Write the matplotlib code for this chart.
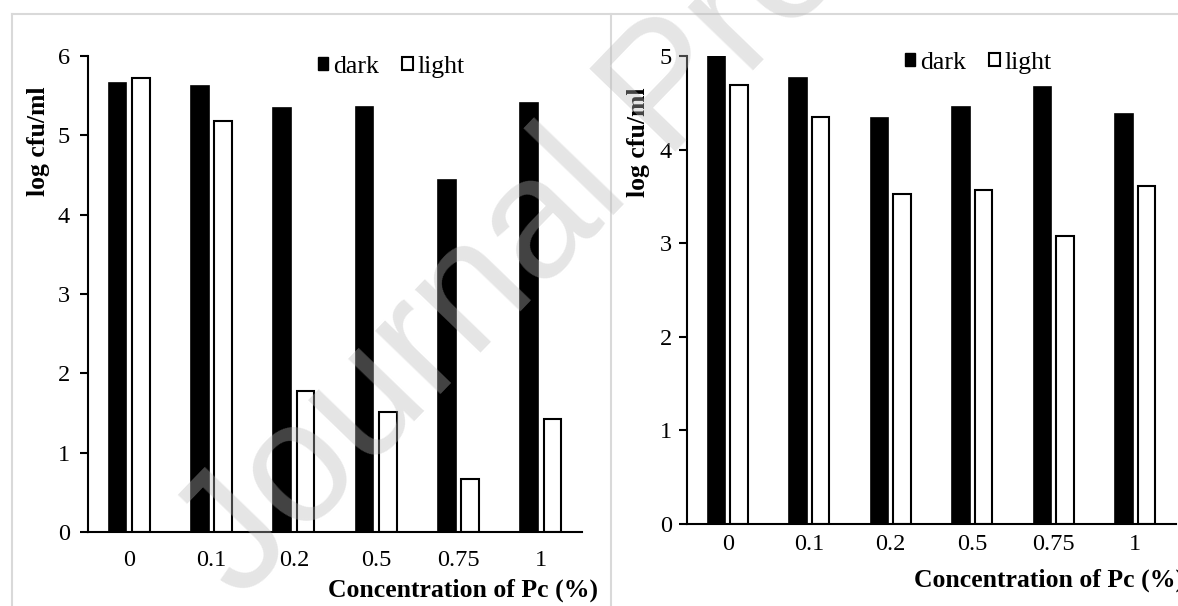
import matplotlib

matplotlib.use("Agg")
import matplotlib.pyplot as plt
import numpy as np
from matplotlib.lines import Line2D
from matplotlib.patches import Patch

plt.rcParams["font.family"] = ["Liberation Serif", "DejaVu Serif"]

CONC = ["0", "0.1", "0.2", "0.5", "0.75", "1"]

# left panel (log cfu/ml)
LEFT_DARK = [5.66, 5.62, 5.34, 5.36, 4.44, 5.41]
LEFT_LIGHT = [5.72, 5.18, 1.78, 1.51, 0.67, 1.43]
LEFT_YTICKS = [0, 1, 2, 3, 4, 5, 6]

# right panel
RIGHT_DARK = [5.00, 4.77, 4.34, 4.45, 4.67, 4.38]
RIGHT_LIGHT = [4.69, 4.35, 3.53, 3.57, 3.08, 3.61]
RIGHT_YTICKS = [0, 1, 2, 3, 4, 5]

W, H = 1178, 606
BAR_W = 0.215
OFF = 0.14


def px_rect(x0, x1, ytop, ybot):
    return [x0 / W, 1 - ybot / H, (x1 - x0) / W, (ybot - ytop) / H]


def panel(ax, dark, light, yticks):
    x = np.arange(len(CONC))
    ax.bar(x - OFF, dark, BAR_W, color="black", edgecolor="black", linewidth=1.2)
    ax.bar(x + OFF, light, BAR_W, color="white", edgecolor="black", linewidth=1.5)
    ax.set_xlim(-0.5, len(CONC) - 0.5)
    ax.set_ylim(yticks[0], yticks[-1])
    ax.set_yticks(yticks)
    ax.set_xticks(x)
    ax.set_xticklabels(CONC)
    ax.tick_params(axis="x", length=0, pad=13, labelsize=17.5)
    ax.tick_params(axis="y", length=6, width=1.5, pad=7, labelsize=17.5)
    for s in ("top", "right"):
        ax.spines[s].set_visible(False)
    for s in ("left", "bottom"):
        ax.spines[s].set_linewidth(1.5)
    ax.patch.set_alpha(0)


fig = plt.figure(figsize=(W / 100, H / 100), dpi=100)

ax1 = fig.add_axes(px_rect(88, 582, 56, 532))
panel(ax1, LEFT_DARK, LEFT_LIGHT, LEFT_YTICKS)
ax2 = fig.add_axes(px_rect(687, 1176, 56, 524))
panel(ax2, RIGHT_DARK, RIGHT_LIGHT, RIGHT_YTICKS)
ax2.tick_params(axis="x", pad=7)
ax2.tick_params(axis="y", pad=5)

# axis titles
fig.text(39 / W, 1 - 141 / H, "log cfu/ml", rotation=90, ha="center",
         va="center", fontsize=18.5, fontweight="bold")
fig.text(638 / W, 1 - 142 / H, "log cfu/ml", rotation=90, ha="center",
         va="center", fontsize=18.5, fontweight="bold")
fig.text(598 / W, 1 - 590 / H, "Concentration of Pc (%)", ha="right",
         va="center", fontsize=18.5, fontweight="bold")
fig.text(914 / W, 1 - 580 / H, "Concentration of Pc (%)", ha="left",
         va="center", fontsize=18.5, fontweight="bold")

# legends
handles = [Patch(facecolor="black", edgecolor="black", label="dark"),
           Patch(facecolor="white", edgecolor="black", linewidth=1.5, label="light")]
for lx, ly in ((318, 67), (905, 63)):
    fig.legend(handles=handles, loc="center left",
               bbox_to_anchor=(lx / W, 1 - ly / H), ncol=2, frameon=False,
               fontsize=18.5, handlelength=0.4, handleheight=0.4,
               handletextpad=0.2, columnspacing=0.9, borderpad=0,
               borderaxespad=0)

# panel frames
GRAY = "#d9d9d9"
fig.add_artist(Line2D([12 / W, 1], [1 - 14 / H] * 2, color=GRAY, lw=1.5))
fig.add_artist(Line2D([12 / W] * 2, [0, 1 - 14 / H], color=GRAY, lw=1.5))
fig.add_artist(Line2D([611 / W] * 2, [0, 1 - 14 / H], color=GRAY, lw=1.5))

# watermark
fig.text(240 / W, 1 - 602 / H, "Journal Pre-proof", rotation=46,
         rotation_mode="anchor", ha="left", va="baseline", fontsize=124,
         family="Liberation Sans", color=(0.73, 0.73, 0.73), alpha=0.37,
         zorder=10)

fig.savefig("out.png", dpi=100)
